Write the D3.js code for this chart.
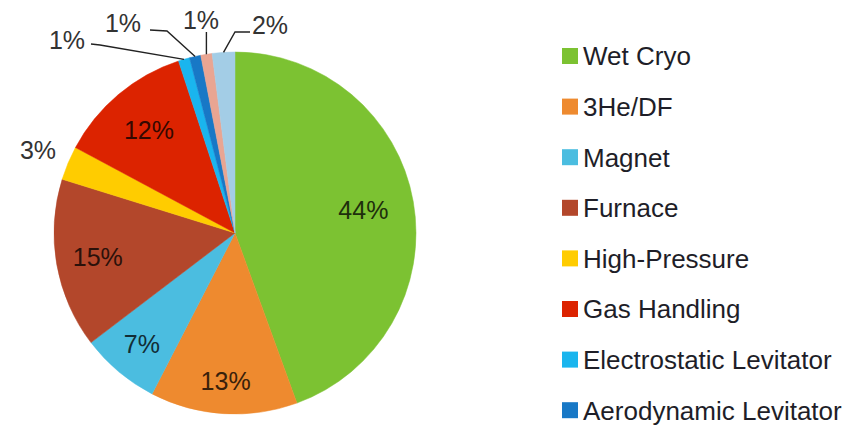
<!DOCTYPE html>
<html>
<head>
<meta charset="utf-8">
<script src="https://cdn.jsdelivr.net/npm/d3@7"></script>
<style>
  html, body { margin: 0; padding: 0; background: #fff; }
  svg { display: block; font-family: "Liberation Sans", Arial, sans-serif; }
</style>
</head>
<body>
<svg id="chart" width="851" height="426"></svg>
<script>
// Share of instruments by sample-environment type (percent)
const categories = ["Wet Cryo", "3He/DF", "Magnet", "Furnace", "High-Pressure",
  "Gas Handling", "Electrostatic Levitator", "Aerodynamic Levitator", "Other A", "Other B"];
const values = [44, 13, 7, 15, 3, 12, 1, 1, 1, 2];
const colors = ["#7cc232", "#ee8a2f", "#4bbde0", "#b3472b", "#ffcc00",
  "#dc2300", "#1ab5ee", "#1878c6", "#e9a592", "#a3cde6"];
// Legend shows the first eight categories
const legendCount = 8;

const svg = d3.select("#chart");
const cx = 235, cy = 233, R = 181;
const labelSize = 25;

const pie = d3.pie().sort(null).value(d => d.v);
const arcs = pie(values.map((v, i) => ({ v, i })));
const arc = d3.arc().innerRadius(0).outerRadius(R);

const g = svg.append("g").attr("transform", `translate(${cx},${cy})`);

g.selectAll("path.slice")
  .data(arcs)
  .enter().append("path")
  .attr("class", "slice")
  .attr("d", arc)
  .attr("fill", d => colors[d.data.i])
  .attr("stroke", d => colors[d.data.i])
  .attr("stroke-width", 0.5);

// Radial placement of the percentage label for each slice, as a fraction of R
// (null = label raised above the pie with a leader line)
const labelRadius = [0.72, 0.82, 0.80, 0.77, 1.18, 0.74, null, null, null, null];

const polar = (angle, r) => [Math.sin(angle) * r, -Math.cos(angle) * r];
const midAngle = d => (d.startAngle + d.endAngle) / 2;

g.selectAll("text.pct")
  .data(arcs.filter(d => labelRadius[d.data.i] !== null))
  .enter().append("text")
  .attr("class", "pct")
  .attr("transform", d => {
    const [x, y] = polar(midAngle(d), R * labelRadius[d.data.i]);
    return `translate(${x},${y})`;
  })
  .attr("text-anchor", "middle")
  .attr("dy", "0.36em")
  .attr("font-size", labelSize)
  .attr("fill", d => labelRadius[d.data.i] > 1 ? "#333" : d3.color(colors[d.data.i]).darker(4))
  .text(d => d.data.v + "%");

// Leader-line labels for the thin slices at the top.
// lx, ly: label centre relative to the pie centre; bends: path points between rim and label.
const leadSpec = {
  6: { lx: -168, ly: -193, bends: [[-135, -188], [-144, -189]] },
  7: { lx: -112, ly: -210, bends: [[-68, -202], [-85, -203]] },
  8: { lx: -34, ly: -213, bends: [[null, -201]] },
  9: { lx: 35, ly: -208, bends: [[0, -201], [15, -201]] }
};
arcs.filter(d => labelRadius[d.data.i] === null).forEach(d => {
  const s = leadSpec[d.data.i];
  const rim = polar(midAngle(d), R);
  const pts = [rim].concat(s.bends.map(([x, y]) => [x === null ? rim[0] : x, y]));
  g.append("path")
    .attr("d", d3.line()(pts))
    .attr("fill", "none")
    .attr("stroke", "#222")
    .attr("stroke-width", 1.4);
  g.append("text")
    .attr("x", s.lx)
    .attr("y", s.ly)
    .attr("text-anchor", "middle")
    .attr("dy", "0.36em")
    .attr("font-size", labelSize)
    .attr("fill", "#333")
    .text(d.data.v + "%");
});

// Legend
const legend = svg.append("g").attr("transform", "translate(562,56)");
const rowH = 50.6;
const items = legend.selectAll("g.item")
  .data(categories.slice(0, legendCount))
  .enter().append("g")
  .attr("class", "item")
  .attr("transform", (d, i) => `translate(0,${i * rowH})`);
items.append("rect")
  .attr("x", 0).attr("y", -8)
  .attr("width", 16).attr("height", 16)
  .attr("fill", (d, i) => colors[i]);
items.append("text")
  .attr("x", 21)
  .attr("y", 0)
  .attr("dy", "0.36em")
  .attr("font-size", 26)
  .attr("fill", "#1e1e28")
  .text(d => d);
</script>
</body>
</html>
